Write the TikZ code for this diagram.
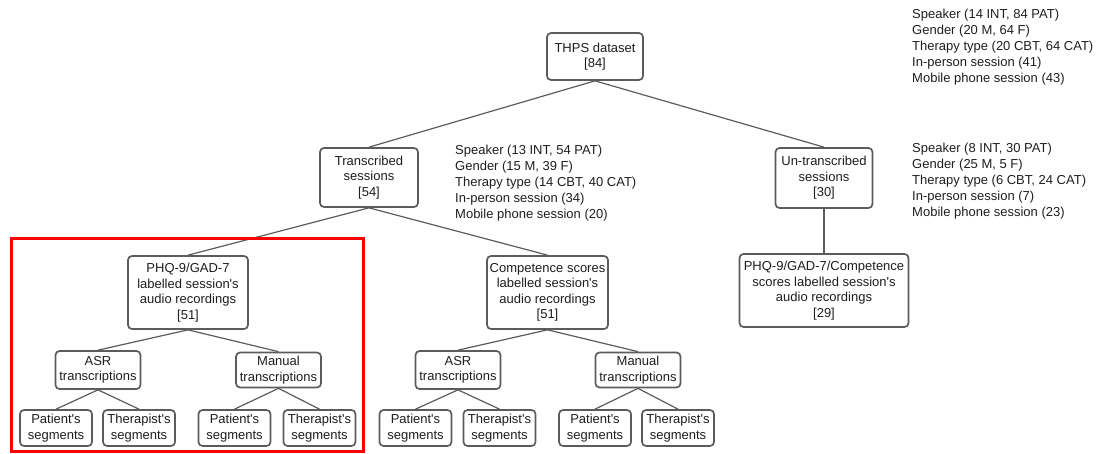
\documentclass[tikz,border=0pt]{standalone}
\usepackage{fontspec}
\setmainfont{Liberation Sans}[Ligatures=TeXOff]
\definecolor{boxgray}{HTML}{5C5C5C}
\definecolor{inkgray}{HTML}{1E1E1E}
\begin{document}
\begin{tikzpicture}[x=1pt,y=-1pt,
  font=\fontsize{13}{15.5}\selectfont,
  box/.style={draw=boxgray,line width=1.7pt,rounded corners=4pt,align=center,
    inner sep=2pt,text=inkgray,fill=white},
  mid/.style={box,minimum width=85pt,minimum height=38pt},
  leaf/.style={box,minimum width=72pt,minimum height=36pt},
  info/.style={anchor=west,align=left,inner sep=0pt,text=inkgray,
    font=\fontsize{13}{16}\selectfont},
  link/.style={draw=boxgray,line width=1.2pt}]
  \useasboundingbox (0,0) rectangle (1099,454);
  % top levels
  \node[box,minimum width=96pt,minimum height=47pt] (thps) at (595,56.5)
    {THPS dataset\\{[84]}};
  \node[box,minimum width=98pt,minimum height=59pt] (trans) at (369,177.5)
    {Transcribed\\sessions\\{[54]}};
  \node[box,minimum width=97pt,minimum height=60pt] (untrans) at (824,178)
    {Un-transcribed\\sessions\\{[30]}};
  \node[box,minimum width=120pt,minimum height=73pt] (phq) at (188,292.5)
    {PHQ-9/GAD-7\\labelled session's\\audio recordings\\{[51]}};
  \node[box,minimum width=121pt,minimum height=73pt] (comp) at (547.5,292.5)
    {Competence scores\\labelled session's\\audio recordings\\{[51]}};
  \node[box,minimum width=169pt,minimum height=73pt] (phqcomp) at (824,290.5)
    {PHQ-9/GAD-7/Competence\\scores labelled session's\\audio recordings\\{[29]}};
  % side notes
  \node[info] (thpsinfo) at (912,47)
    {Speaker (14 INT, 84 PAT)\\Gender (20 M, 64 F)\\Therapy type (20 CBT, 64 CAT)\\In-person session (41)\\Mobile phone session (43)};
  \node[info] (transinfo) at (455,183)
    {Speaker (13 INT, 54 PAT)\\Gender (15 M, 39 F)\\Therapy type (14 CBT, 40 CAT)\\In-person session (34)\\Mobile phone session (20)};
  \node[info] (untransinfo) at (912,181)
    {Speaker (8 INT, 30 PAT)\\Gender (25 M, 5 F)\\Therapy type (6 CBT, 24 CAT)\\In-person session (7)\\Mobile phone session (23)};
  % transcription level
  \node[mid] (asrA) at (98,370) {ASR\\transcriptions};
  \node[mid,minimum height=35pt] (manA) at (278.5,370) {Manual\\transcriptions};
  \node[mid] (asrB) at (458,370) {ASR\\transcriptions};
  \node[mid,minimum height=35pt] (manB) at (638,370) {Manual\\transcriptions};
  % segments
  \node[leaf] (patA1) at (56,428) {Patient's\\segments};
  \node[leaf] (therA1) at (139,428) {Therapist's\\segments};
  \node[leaf] (patA2) at (234.5,428) {Patient's\\segments};
  \node[leaf] (therA2) at (319.5,428) {Therapist's\\segments};
  \node[leaf] (patB1) at (415.5,428) {Patient's\\segments};
  \node[leaf] (therB1) at (499.5,428) {Therapist's\\segments};
  \node[leaf] (patB2) at (595,428) {Patient's\\segments};
  \node[leaf] (therB2) at (678,428) {Therapist's\\segments};
  % links
  \draw[link] (thps.south) -- (trans.north);
  \draw[link] (thps.south) -- (untrans.north);
  \draw[link] (trans.south) -- (phq.north);
  \draw[link] (trans.south) -- (comp.north);
  \draw[link] (untrans.south) -- (phqcomp.north);
  \draw[link] (phq.south) -- (asrA.north);
  \draw[link] (phq.south) -- (manA.north);
  \draw[link] (comp.south) -- (asrB.north);
  \draw[link] (comp.south) -- (manB.north);
  \draw[link] (asrA.south) -- (patA1.north);
  \draw[link] (asrA.south) -- (therA1.north);
  \draw[link] (manA.south) -- (patA2.north);
  \draw[link] (manA.south) -- (therA2.north);
  \draw[link] (asrB.south) -- (patB1.north);
  \draw[link] (asrB.south) -- (therB1.north);
  \draw[link] (manB.south) -- (patB2.north);
  \draw[link] (manB.south) -- (therB2.north);
  % highlight
  \draw[red,line width=2.6pt] (11.5,238.5) rectangle (363.5,451.5);
\end{tikzpicture}
\end{document}
